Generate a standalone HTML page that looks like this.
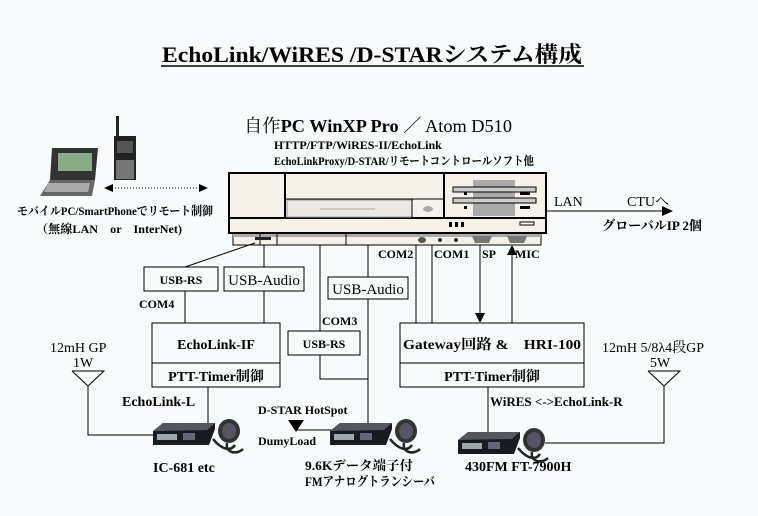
<!DOCTYPE html>
<html><head><meta charset="utf-8"><style>
html,body{margin:0;padding:0;background:#f7fbfb;}
svg{display:block}
text{font-family:"Liberation Serif","Noto Serif CJK SC","Noto Sans CJK JP",serif;fill:#000}
.b{font-weight:bold}
</style></head><body>
<svg width="758" height="516" viewBox="0 0 758 516" xmlns="http://www.w3.org/2000/svg">
<rect width="758" height="516" fill="#f7fbfb"/>
<defs>
<g id="radio">
  <polygon points="0,10 10,2 62,2 62,8 56,24 0,24" fill="#1a1a22"/>
  <polygon points="0,10 10,2 62,2 54,9" fill="#555560"/>
  <rect x="4" y="13" width="20" height="6" fill="#9aa"/>
  <rect x="30" y="12" width="12" height="7" fill="#667"/>
  <ellipse cx="76" cy="10" rx="11" ry="12" fill="#333"/>
  <ellipse cx="76" cy="10" rx="7" ry="8" fill="#556"/>
  <path d="M60,18 C70,30 78,30 82,24 M74,22 C72,32 84,34 90,28" stroke="#222" stroke-width="2.5" fill="none"/>
</g>
</defs>
<text x="162" y="62" font-size="22" class="b" textLength="420" lengthAdjust="spacingAndGlyphs">EchoLink/WiRES /D-STARシステム構成</text>
<line x1="161" y1="66" x2="584" y2="66" stroke="#000" stroke-width="1.5"/>

<text x="244" y="132" font-size="18" font-family="Liberation Sans, Noto Sans CJK JP, sans-serif" textLength="268" lengthAdjust="spacingAndGlyphs">自作<tspan class="b" font-family="Liberation Serif">PC WinXP Pro</tspan> ／ Atom D510</text>
<text x="274" y="149" font-size="12" class="b">HTTP/FTP/WiRES-II/EchoLink</text>
<text x="274" y="165" font-size="12" class="b" textLength="260" lengthAdjust="spacingAndGlyphs">EchoLinkProxy/D-STAR/リモートコントロールソフト他</text>

<polygon points="52,148 98,148 95,180 50,180" fill="#333"/>
<rect x="58" y="153" width="34" height="18" fill="#8a8"/>
<polygon points="50,180 95,180 92,196 40,196" fill="#666"/>
<polygon points="48,183 90,183 88,192 44,192" fill="#aaa"/>
<rect x="116" y="116" width="3" height="20" fill="#222"/>
<rect x="114" y="136" width="22" height="44" fill="#222"/>
<rect x="117" y="141" width="16" height="12" fill="#555"/>
<rect x="116" y="160" width="18" height="19" fill="#777"/>
<line x1="112" y1="188" x2="200" y2="188" stroke="#000" stroke-dasharray="1,2"/>
<polygon points="104,188 113,184 113,192" fill="#000"/>
<polygon points="208,188 199,184 199,192" fill="#000"/>
<text x="17" y="215" font-size="12" class="b" textLength="196" lengthAdjust="spacingAndGlyphs">モバイルPC/SmartPhoneでリモート制御</text>
<text x="36" y="233" font-size="12" class="b" textLength="146" lengthAdjust="spacingAndGlyphs">（無線LAN　or　InterNet)</text>

<rect x="233" y="232" width="308" height="13" fill="#f5f0e8" stroke="#000"/>
<rect x="233" y="232" width="308" height="5" fill="#aaa"/>
<rect x="229" y="173" width="317" height="60" fill="#f6f2ea" stroke="#000" stroke-width="2"/>
<line x1="229" y1="218" x2="546" y2="218" stroke="#000" stroke-width="2"/>
<line x1="285" y1="173" x2="285" y2="218" stroke="#000" stroke-width="2"/>
<line x1="444" y1="173" x2="444" y2="218" stroke="#000" stroke-width="2"/>
<line x1="285" y1="199" x2="444" y2="199" stroke="#000"/>
<rect x="287" y="200" width="125" height="17" fill="#ece8e0" stroke="#999"/>
<line x1="412" y1="199" x2="412" y2="218" stroke="#000"/>
<line x1="320" y1="209" x2="375" y2="209" stroke="#aaa"/>
<ellipse cx="428" cy="209" rx="5" ry="3" fill="#aaa"/>
<rect x="473" y="180" width="42" height="36" fill="#aaa"/>
<rect x="453" y="187" width="83" height="5" fill="#ccc" stroke="#000"/>
<rect x="453" y="198" width="83" height="5" fill="#ccc" stroke="#000"/>
<rect x="464" y="192" width="3" height="3" fill="#000"/><rect x="520" y="192" width="10" height="3" fill="#000"/>
<rect x="464" y="206" width="3" height="3" fill="#000"/><rect x="520" y="206" width="10" height="3" fill="#000"/>
<rect x="449" y="222" width="3" height="5" fill="#000"/><rect x="455" y="222" width="3" height="5" fill="#000"/><rect x="461" y="222" width="3" height="5" fill="#000"/>
<rect x="520" y="222" width="14" height="3" fill="#fff" stroke="#000"/>
<line x1="260" y1="232" x2="260" y2="245" stroke="#000"/>
<line x1="277" y1="232" x2="277" y2="245" stroke="#000"/>
<line x1="346" y1="232" x2="346" y2="245" stroke="#000"/>
<rect x="255" y="237" width="16" height="3" fill="#222"/>
<ellipse cx="422" cy="240" rx="4" ry="3" fill="#555"/>
<circle cx="440" cy="240" r="2" fill="#333"/><circle cx="456" cy="240" r="2" fill="#333"/>
<path d="M472,236 h20 l-3,7 h-14 z" fill="#777"/>
<path d="M507,236 h20 l-3,7 h-14 z" fill="#777"/>
<line x1="546" y1="211" x2="665" y2="211" stroke="#000"/>
<polygon points="673,211 662,206 662,216" fill="#000"/>
<text x="554" y="206" font-size="14">LAN</text>
<text x="627" y="206" font-size="14">CTUへ</text>
<text x="602" y="230" font-size="13" class="b" font-family="Liberation Sans, Noto Sans CJK JP, sans-serif" textLength="100" lengthAdjust="spacingAndGlyphs">グローバルIP 2個</text>

<text x="378" y="258" font-size="12" class="b">COM2</text>
<text x="434" y="258" font-size="12" class="b">COM1</text>
<text x="482" y="258" font-size="12" class="b">SP</text>
<text x="515" y="258" font-size="12" class="b">MIC</text>

<g stroke="#000" fill="none">
<line x1="185" y1="267" x2="255" y2="243"/>
<line x1="185" y1="291" x2="185" y2="323"/>
<line x1="264" y1="245" x2="264" y2="267"/>
<line x1="264" y1="291" x2="264" y2="323"/>
<line x1="320" y1="245" x2="320" y2="331"/>
<polyline points="320,355 320,379 368,379"/>
<line x1="368" y1="245" x2="368" y2="277"/>
<line x1="368" y1="299" x2="368" y2="424"/>
<line x1="416" y1="245" x2="416" y2="323"/>
<line x1="432" y1="245" x2="432" y2="323"/>
<line x1="480" y1="245" x2="480" y2="314"/>
<line x1="512" y1="254" x2="512" y2="323"/>
<line x1="208" y1="387" x2="208" y2="425"/>
<line x1="488" y1="387" x2="488" y2="434"/>
<polyline points="88,386 88,435 155,435"/>
<polyline points="664,386 664,443 545,443"/>
<line x1="296" y1="430" x2="332" y2="430"/>
<polyline points="72,371 104,371 88,386 72,371"/>
<polyline points="648,371 680,371 664,386 648,371"/>
</g>
<polygon points="480,323 475,313 485,313" fill="#000"/>
<polygon points="512,245 507,255 517,255" fill="#000"/>
<polygon points="288,420 304,420 296,432" fill="#000"/>

<g fill="#f7fbfb" stroke="#000">
<rect x="144" y="267" width="74" height="24"/>
<rect x="224" y="267" width="80" height="24"/>
<rect x="328" y="277" width="80" height="22"/>
<rect x="152" y="323" width="128" height="64"/>
<rect x="288" y="331" width="72" height="24"/>
<rect x="400" y="323" width="184" height="64"/>
</g>
<line x1="152" y1="363" x2="280" y2="363" stroke="#000"/>
<line x1="400" y1="363" x2="584" y2="363" stroke="#000"/>
<text x="181" y="284" font-size="12" class="b" text-anchor="middle">USB-RS</text>
<text x="264" y="285" font-size="15" text-anchor="middle">USB-Audio</text>
<text x="368" y="294" font-size="15" text-anchor="middle">USB-Audio</text>
<text x="324" y="348" font-size="12" class="b" text-anchor="middle">USB-RS</text>
<text x="139" y="308" font-size="12" class="b">COM4</text>
<text x="322" y="325" font-size="12" class="b">COM3</text>
<text x="216" y="349" font-size="14" class="b" text-anchor="middle">EchoLink-IF</text>
<text x="216" y="381" font-size="14" class="b" text-anchor="middle">PTT-Timer制御</text>
<text x="492" y="349" font-size="14" class="b" text-anchor="middle" textLength="178" lengthAdjust="spacingAndGlyphs">Gateway回路 &amp;　HRI-100</text>
<text x="492" y="381" font-size="14" class="b" text-anchor="middle">PTT-Timer制御</text>

<text x="50" y="352" font-size="14">12mH GP</text>
<text x="73" y="367" font-size="14">1W</text>
<text x="602" y="352" font-size="14">12mH 5/8λ4段GP</text>
<text x="650" y="367" font-size="14">5W</text>
<text x="122" y="406" font-size="14" class="b">EchoLink-L</text>
<text x="258" y="414" font-size="12" class="b">D-STAR HotSpot</text>
<text x="258" y="445" font-size="12" class="b">DumyLoad</text>
<text x="490" y="406" font-size="13" class="b">WiRES &lt;-&gt;EchoLink-R</text>

<use href="#radio" x="153" y="421"/>
<use href="#radio" x="330" y="421"/>
<use href="#radio" x="458" y="430"/>

<text x="153" y="472" font-size="14" class="b">IC-681 etc</text>
<text x="305" y="470" font-size="13" class="b" textLength="108" lengthAdjust="spacingAndGlyphs">9.6Kデータ端子付</text>
<text x="305" y="486" font-size="13" class="b" textLength="130" lengthAdjust="spacingAndGlyphs">FMアナログトランシーバ</text>
<text x="465" y="471" font-size="14" class="b">430FM FT-7900H</text>
</svg>
</body></html>
